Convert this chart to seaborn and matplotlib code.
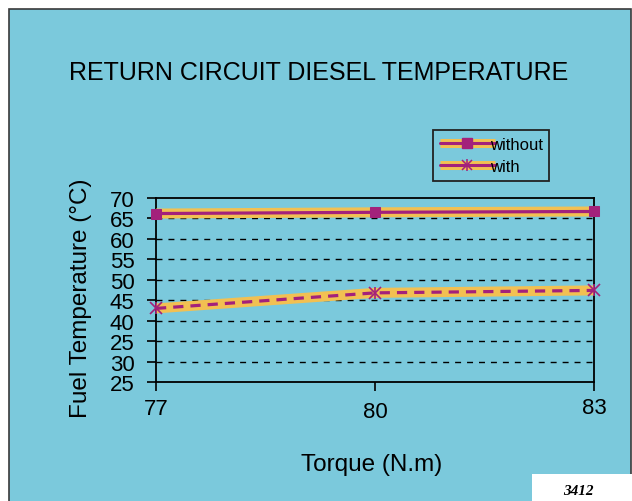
import matplotlib
matplotlib.use("Agg")
import matplotlib.pyplot as plt
from matplotlib.patches import Rectangle
from matplotlib.lines import Line2D
import matplotlib.transforms as mtransforms
import seaborn as sns
import pandas as pd

sns.set_theme(style="white")
plt.rcParams["font.family"] = ["Liberation Sans", "DejaVu Sans"]
plt.rcParams["text.color"] = "black"
plt.rcParams["xtick.color"] = "black"
plt.rcParams["ytick.color"] = "black"

# Data
torque = [77, 80, 83]
temp_without = [66.2, 66.5, 66.7]
temp_with = [43.0, 46.8, 47.4]
series_names = ["without", "with"]
y_ticks = [25, 30, 35, 40, 45, 50, 55, 60, 65, 70]
y_tick_labels = ["25", "30", "25", "40", "45", "50", "55", "60", "65", "70"]
x_ticks = [77, 80, 83]

df = pd.DataFrame({
    "torque": torque * 2,
    "temp": temp_without + temp_with,
    "series": [series_names[0]] * 3 + [series_names[1]] * 3,
})

BG = "#7BC9DC"
GOLD = "#F2C052"
MAGENTA = "#A3217B"

fig = plt.figure(figsize=(6.32, 5.02), dpi=100)
fig.patch.set_facecolor("white")

# Chart-area panel with its border
panel = Rectangle((9 / 632, -0.05), (631 - 9) / 632, (492 / 502) + 0.05,
                  transform=fig.transFigure, facecolor=BG, edgecolor="#3a3a3a",
                  linewidth=1.2, zorder=-10)
fig.patches.append(panel)

ax = fig.add_axes([156 / 632, (502 - 383) / 502, (594 - 156) / 632, (383 - 199) / 502])
ax.set_facecolor(BG)
ax.set_zorder(1)

d_without = df[df["series"] == "without"]
d_with = df[df["series"] == "with"]

# Gold underlay bands
sns.lineplot(data=d_without, x="torque", y="temp", ax=ax, color=GOLD,
             linewidth=7.2, solid_capstyle="butt", zorder=3, legend=False)
sns.lineplot(data=d_with, x="torque", y="temp", ax=ax, color=GOLD,
             linewidth=7.2, solid_capstyle="butt", zorder=3, legend=False)

# Magenta series lines with markers
sns.lineplot(data=d_without, x="torque", y="temp", ax=ax, color=MAGENTA,
             linewidth=2.3, marker="s", markersize=7, markeredgecolor=MAGENTA,
             zorder=4, legend=False, clip_on=False)
sns.lineplot(data=d_with, x="torque", y="temp", ax=ax, color=MAGENTA,
             linewidth=2.3, linestyle=(0, (3.2, 2.2)),
             marker="x", markersize=8, markeredgewidth=1.2,
             markeredgecolor=MAGENTA, zorder=4, legend=False, clip_on=False)
ax.scatter(torque, temp_with, marker="|", s=80, color=MAGENTA, linewidths=1.2,
           zorder=5, clip_on=False)

ax.set_xlim(77, 83)
ax.set_ylim(25, 70)
ax.set_xticks(x_ticks)
ax.set_xticklabels([str(t) for t in x_ticks], fontsize=16)
ax.set_yticks(y_ticks)
ax.set_yticklabels(y_tick_labels, fontsize=16)
ax.tick_params(axis="both", direction="out", length=6.5, width=1.2,
               color="black", bottom=True, left=True)
ax.tick_params(axis="y", pad=9)
ax.tick_params(axis="x", pad=5)

# Slightly staggered x tick labels
for lbl, dy in zip(ax.get_xticklabels(), [0, -2, 1]):
    lbl.set_transform(lbl.get_transform() +
                      mtransforms.ScaledTranslation(0, dy / 72, fig.dpi_scale_trans))

for y in y_ticks[1:-1]:
    ax.axhline(y, color="black", linewidth=1.0, linestyle=(0, (4.3, 4.3)), zorder=1)

for side in ["left", "bottom", "top", "right"]:
    ax.spines[side].set_visible(True)
    ax.spines[side].set_color("black")
    ax.spines[side].set_linewidth(1.3)

ax.set_xlabel("")
ax.set_ylabel("")
fig.text(372 / 632, 1 - 465 / 502, "Torque (N.m)", ha="center", va="center", fontsize=17.5)
fig.text(81 / 632, 1 - 298 / 502, "Fuel Temperature (°C)", ha="center", va="center",
         rotation=90, fontsize=17.5)
fig.text(319 / 632, 1 - 73 / 502, "RETURN CIRCUIT DIESEL TEMPERATURE",
         ha="center", va="center", fontsize=18)

# Legend
h_without = (Line2D([], [], color=GOLD, linewidth=6.5, solid_capstyle="butt"),
             Line2D([], [], color=MAGENTA, linewidth=2.2, marker="s", markersize=6.5))
h_with = (Line2D([], [], color=GOLD, linewidth=6.5, solid_capstyle="butt"),
          Line2D([], [], color=MAGENTA, linewidth=2.2, marker="x", markersize=7,
                 markeredgewidth=1.1),
          Line2D([], [], color=MAGENTA, linestyle="none", marker="|", markersize=9,
                 markeredgewidth=1.1))
leg = fig.legend([h_without, h_with], series_names, loc="upper left",
                 bbox_to_anchor=(433 / 632, 1 - 131 / 502), fontsize=12,
                 frameon=True, fancybox=False, framealpha=1, facecolor=BG,
                 edgecolor="#222222", handlelength=3.3, handletextpad=-0.3,
                 borderpad=0.4, labelspacing=0.45, borderaxespad=0)
leg.get_frame().set_linewidth(1.3)
for t in leg.get_texts():
    t.set_color("black")

# Figure number box
fig.patches.append(Rectangle((532 / 632, 0), 100 / 632, 27 / 502,
                             transform=fig.transFigure, facecolor="white",
                             edgecolor="none", zorder=1))
fig.text(578 / 632, 1 - 492 / 502, "3412", ha="center", va="center", fontsize=11,
         family="Liberation Serif", fontweight="bold", fontstyle="italic")

fig.savefig("out.png", dpi=100, facecolor="white")
